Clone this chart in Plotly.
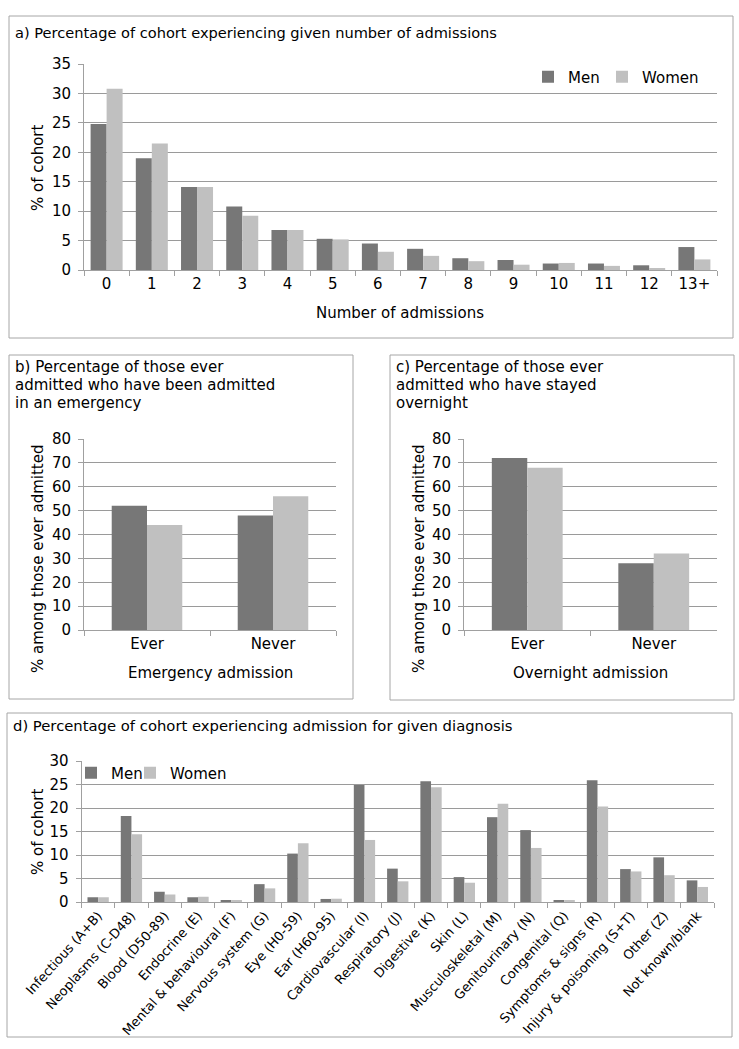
import plotly.graph_objects as go

# ---------------- data ----------------
admissions = ["0", "1", "2", "3", "4", "5", "6", "7", "8", "9", "10", "11", "12", "13+"]
adm_men = [24.8, 19.0, 14.1, 10.8, 6.8, 5.3, 4.5, 3.6, 2.0, 1.7, 1.1, 1.1, 0.8, 3.9]
adm_women = [30.8, 21.5, 14.1, 9.2, 6.8, 5.2, 3.1, 2.4, 1.5, 0.9, 1.2, 0.7, 0.2, 1.8]

emergency_cats = ["Ever", "Never"]
emergency_men = [52, 48]
emergency_women = [44, 56]

overnight_cats = ["Ever", "Never"]
overnight_men = [72, 28]
overnight_women = [68, 32]

diagnoses = ["Infectious (A+B)", "Neoplasms (C-D48)", "Blood (D50-89)", "Endocrine (E)",
             "Mental & behavioural (F)", "Nervous system (G)", "Eye (H0-59)", "Ear (H60-95)",
             "Cardiovascular (I)", "Respiratory (J)", "Digestive (K)", "Skin (L)",
             "Musculoskeletal (M)", "Genitourinary (N)", "Congenital (Q)", "Symptoms & signs (R)",
             "Injury & poisoning (S+T)", "Other (Z)", "Not known/blank"]
diag_men = [1.0, 18.3, 2.2, 1.0, 0.35, 3.8, 10.3, 0.65, 24.9, 7.1, 25.7, 5.3, 18.05, 15.3, 0.3, 25.9, 7.0, 9.5, 4.6]
diag_women = [1.0, 14.4, 1.6, 1.1, 0.3, 2.9, 12.5, 0.7, 13.2, 4.4, 24.4, 4.1, 20.9, 11.5, 0.25, 20.3, 6.5, 5.7, 3.2]

# ---------------- styling ----------------
W, H = 739, 1049
MEN_COLOR = "#777777"
WOMEN_COLOR = "#c0c0c0"
GRID = "#9a9a9a"
AXIS = "#a0a0a0"
BOX = "#a6a6a6"
FONT = "DejaVu Sans"


def px(x):
    return x / W


def py(y):
    return 1 - y / H


fig = go.Figure()


def add_pair(cats, men, women, n, w, legends=None):
    xa = "x" if n == 1 else f"x{n}"
    ya = "y" if n == 1 else f"y{n}"
    show = legends is not None
    lm, lw = legends if show else ("legend", "legend")
    fig.add_trace(go.Bar(x=cats, y=men, name="Men", marker_color=MEN_COLOR, marker_line_width=0,
                         width=w, offset=-w, xaxis=xa, yaxis=ya, showlegend=show,
                         legend=lm, hoverinfo="x+y+name"))
    fig.add_trace(go.Bar(x=cats, y=women, name="Women", marker_color=WOMEN_COLOR, marker_line_width=0,
                         width=w, offset=0, xaxis=xa, yaxis=ya, showlegend=show,
                         legend=lw, hoverinfo="x+y+name"))


add_pair(admissions, adm_men, adm_women, 1, 0.354, legends=("legend", "legend2"))
add_pair(emergency_cats, emergency_men, emergency_women, 2, 0.28)
add_pair(overnight_cats, overnight_men, overnight_women, 3, 0.28)
add_pair(diagnoses, diag_men, diag_women, 4, 0.32, legends=("legend3", "legend4"))


def xaxis_style(domain, anchor, size=15, angle=0):
    return dict(domain=domain, anchor=anchor, type="category", showline=True, linecolor=AXIS,
                linewidth=1, ticks="outside", tickson="boundaries", ticklen=5, tickcolor=AXIS,
                showgrid=False, zeroline=False, tickangle=angle, automargin=False,
                tickfont=dict(family=FONT, size=size, color="#000000"), fixedrange=True)


def yaxis_style(domain, anchor, rng, dtick, size=15):
    return dict(domain=domain, anchor=anchor, range=rng, dtick=dtick, showgrid=True, gridcolor=GRID,
                gridwidth=1, showline=True, linecolor=AXIS, linewidth=1, ticks="outside",
                ticklen=5, tickcolor=AXIS, zeroline=False, ticklabelstandoff=4, automargin=False,
                tickfont=dict(family=FONT, size=size, color="#000000"), fixedrange=True)


def legend_style(x, y):
    return dict(orientation="h", x=px(x), y=py(y), xanchor="left", yanchor="middle",
                font=dict(family=FONT, size=15, color="#000000"), bgcolor="rgba(0,0,0,0)",
                itemclick=False, itemdoubleclick=False, borderwidth=0)


fig.update_layout(
    width=W, height=H,
    margin=dict(l=0, r=0, t=0, b=0, pad=0, autoexpand=False),
    paper_bgcolor="white", plot_bgcolor="white",
    barmode="overlay",
    font=dict(family=FONT, color="#000000"),
    xaxis=xaxis_style([px(84), px(717)], "y"),
    yaxis=yaxis_style([py(270), py(64)], "x", [0, 35], 5),
    xaxis2=xaxis_style([px(84), px(336)], "y2"),
    yaxis2=yaxis_style([py(630), py(439)], "x2", [0, 80], 10),
    xaxis3=xaxis_style([px(464), px(717)], "y3"),
    yaxis3=yaxis_style([py(630), py(439)], "x3", [0, 80], 10),
    xaxis4=xaxis_style([px(81.5), px(714)], "y4", size=13, angle=-48),
    yaxis4=yaxis_style([py(902), py(761)], "x4", [0, 30], 5, size=15),
    legend=legend_style(528, 77),
    legend2=legend_style(602, 77),
    legend3=legend_style(71, 773),
    legend4=legend_style(130, 773),
)

# panel boxes
boxes = [(9, 16, 733, 338), (9, 355, 353, 699), (390, 355, 734, 700), (7, 713, 732, 1037)]
for x0, y0, x1, y1 in boxes:
    fig.add_shape(type="rect", xref="paper", yref="paper", x0=px(x0), x1=px(x1), y0=py(y0), y1=py(y1),
                  line=dict(color=BOX, width=1), fillcolor="rgba(0,0,0,0)", layer="below")


def note(text, x, y, xanchor="left", yanchor="middle", size=14, angle=0):
    fig.add_annotation(text=text, x=px(x), y=py(y), xref="paper", yref="paper", showarrow=False,
                       xanchor=xanchor, yanchor=yanchor, textangle=angle, align="left",
                       font=dict(family=FONT, size=size, color="#000000"))


note("a) Percentage of cohort experiencing given number of admissions", 13, 32, size=14.6)
for i, line in enumerate(["b) Percentage of those ever", "admitted who have been admitted", "in an emergency"]):
    note(line, 13, 367 + 18 * i, size=15)
for i, line in enumerate(["c) Percentage of those ever", "admitted who have stayed", "overnight"]):
    note(line, 394, 367 + 18 * i, size=15)
note("d) Percentage of cohort experiencing admission for given diagnosis", 11, 725, size=14.8)

note("Number of admissions", 400, 313, xanchor="center", size=15)
note("Emergency admission", 210, 673, xanchor="center", size=15)
note("Overnight admission", 590, 673, xanchor="center", size=15)

note("% of cohort", 38, 168, xanchor="center", size=15, angle=-90)
note("% among those ever admitted", 38, 559, xanchor="center", size=15, angle=-90)
note("% among those ever admitted", 419, 559, xanchor="center", size=15, angle=-90)
note("% of cohort", 38, 832, xanchor="center", size=15, angle=-90)

fig.write_html("out.html", config={"displayModeBar": False},
               post_script="document.body.style.margin='0px';")
